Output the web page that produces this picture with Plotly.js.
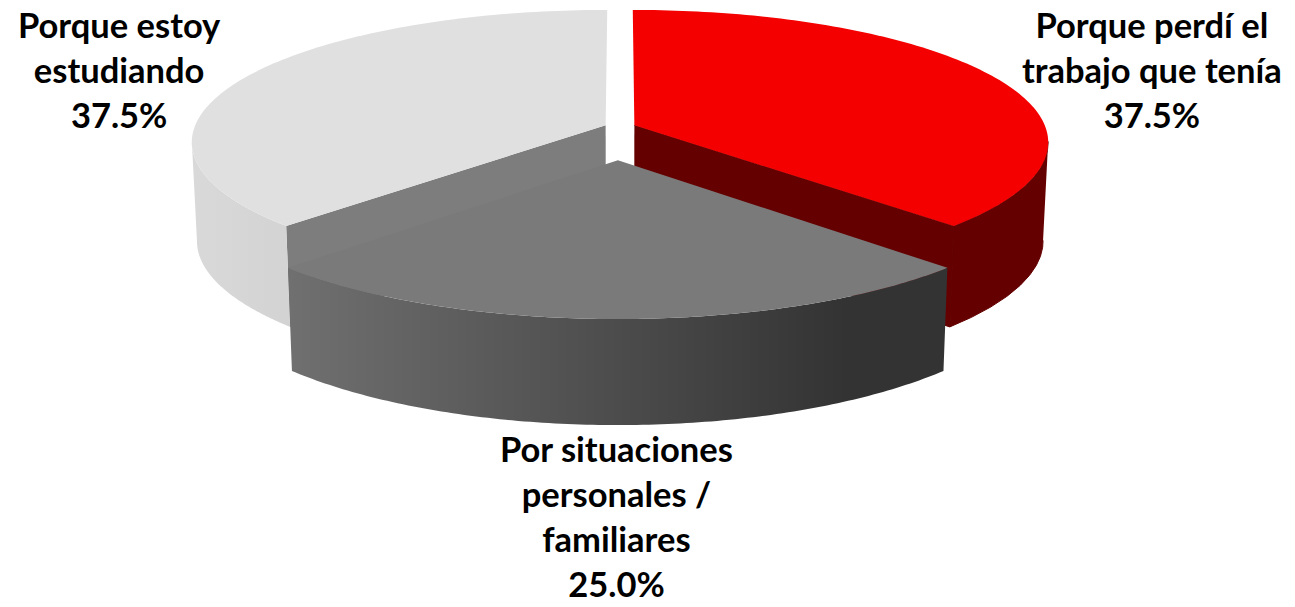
<!DOCTYPE html>
<html>
<head>
<meta charset="utf-8">
<script src="https://cdn.plot.ly/plotly-3.0.1.min.js"></script>
<style>html,body{margin:0;padding:0;background:#fff;overflow:hidden}</style>
</head>
<body>
<div id="chart" style="width:1295px;height:607px"></div>
<script>
// ---- data ----
const categories = ["Porque perdí el<br>trabajo que tenía", "Por situaciones<br>personales /<br>familiares", "Porque estoy<br>estudiando"];
const shares = [37.5, 25.0, 37.5];
const topColors = ["#F40000", "#7A7A7A", "#E0E0E0"];
const radialColors = ["#640000", "#7A7A7A", "#7D7D7D"];
const wallScales = [
  null,
  [[0, "#707070"], [0.85, "#333333"], [1, "#333333"]],
  [[0, "#D9D9D9"], [1, "#D3D3D3"]]
];
const wallSpans = [[950, 1050], [288, 945], [192, 290]];
const explodeU = [0.035, -0.005, -0.035];
const explodeV = [-0.07, 0.19, -0.07];
const labelX = [1152, 616, 119];
const labelY = [69, 516, 69];
const labelSize = 34.5;

// ---- projection of the tilted pie onto the plot's axes ----
const cx = 620, cy = 134.5, A = 414, B = 132, K = 0.125;
const frontFrom = 97, frontTo = 263; // part of the rim that faces the viewer
function upper(U, V) {
  const d = 1 - K * V;
  return [cx + A * U / d, cy + B * V / d];
}
function lower(U, V) {
  const p = upper(U, V);
  return [cx + (p[0] - cx) * 0.988, p[1] + 99 + 5 * V * V];
}
function arcPts(i, a0, a1, fn) {
  const out = [];
  const n = 120;
  for (let s = 0; s <= n; s++) {
    const t = (a0 + (a1 - a0) * s / n) * Math.PI / 180;
    out.push(fn(explodeU[i] + Math.sin(t), explodeV[i] - Math.cos(t)));
  }
  return out;
}
function poly(pts, extra) {
  return Object.assign({
    x: pts.map(p => p[0]), y: pts.map(p => p[1]),
    mode: "none", fill: "toself", hoverinfo: "skip", showlegend: false
  }, extra);
}

const total = shares.reduce((a, b) => a + b, 0);
let acc = 0;
const spans = shares.map(v => { const a = acc; acc += v / total * 360; return [a, acc]; });

function sliceTraces(i, cutAngle) {
  const [a0, a1] = spans[i];
  const f0 = Math.max(a0, frontFrom), f1 = Math.min(a1, frontTo);
  const wallPts = arcPts(i, f0, f1, upper).concat(arcPts(i, f0, f1, lower).reverse());
  const apexT = upper(explodeU[i], explodeV[i]);
  const apexL = lower(explodeU[i], explodeV[i]);
  const out = [];
  const wallExtra = wallScales[i]
    ? { fillgradient: { type: "horizontal", colorscale: wallScales[i], start: wallSpans[i][0], stop: wallSpans[i][1] } }
    : { fillcolor: radialColors[i], mode: "lines", line: { color: radialColors[i], width: 1 } };
  if (!wallScales[i]) out.push(poly(wallPts, wallExtra));
  if (cutAngle !== null) {
    const t = cutAngle * Math.PI / 180;
    const U = explodeU[i] + Math.sin(t), V = explodeV[i] - Math.cos(t);
    out.push(poly([apexT, upper(U, V), lower(U, V), apexL], {
      fillcolor: radialColors[i], mode: wallScales[i] ? "none" : "lines", line: { color: radialColors[i], width: 1 }
    }));
  }
  if (wallScales[i]) out.push(poly(wallPts, wallExtra));
  out.push(poly([apexT].concat(arcPts(i, a0, a1, upper)), { fillcolor: topColors[i] }));
  return out;
}

// back slices first, the front one last; only the cut face turned to the viewer is drawn
const traces = [...sliceTraces(2, spans[2][0]), ...sliceTraces(0, spans[0][1]), ...sliceTraces(1, null)];

const annotations = categories.map((c, i) => ({
  text: c + "<br>" + shares[i].toFixed(1) + "%",
  x: labelX[i], y: labelY[i], xref: "x", yref: "y",
  xanchor: "center", yanchor: "middle", align: "center", showarrow: false,
  font: { family: "Lato, 'Open Sans', sans-serif", size: labelSize, color: "#000", weight: 700 }
}));

Plotly.newPlot("chart", traces, {
  width: 1295, height: 607,
  margin: { l: 0, r: 0, t: 0, b: 0 },
  paper_bgcolor: "#fff", plot_bgcolor: "#fff",
  xaxis: { range: [0, 1295], visible: false, fixedrange: true },
  yaxis: { range: [607, 0], visible: false, fixedrange: true },
  showlegend: false, hovermode: false,
  annotations: annotations
}, { displayModeBar: false, staticPlot: true });
</script>
</body>
</html>
